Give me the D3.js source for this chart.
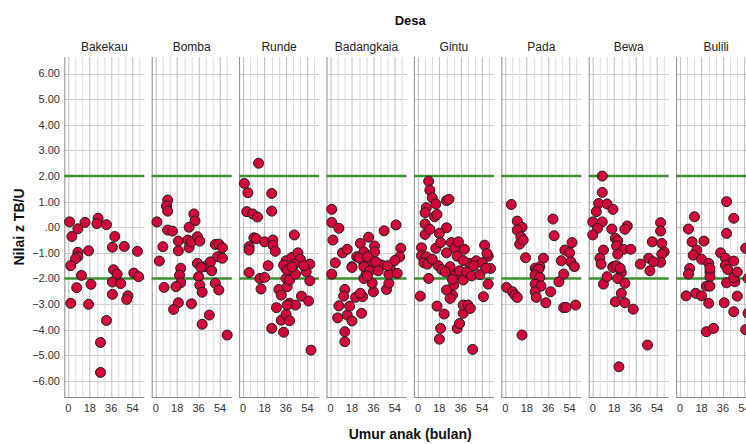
<!DOCTYPE html>
<html>
<head>
<meta charset="utf-8">
<script src="https://cdn.jsdelivr.net/npm/d3@7"></script>
<style>
  html, body { margin: 0; padding: 0; background: #fff; }
  svg { display: block; font-family: "Liberation Sans", Arial, sans-serif; }
</style>
</head>
<body>
<svg id="chart" width="746" height="444"></svg>
<script>
// Villages (facets), left to right
const desa = ["Bakekau", "Bomba", "Runde", "Badangkaia", "Gintu", "Pada", "Bewa", "Bulili"];

// [age in months, height-for-age z-score] per child, one array per village
const bakekau = [[1,0.21],[3,-0.36],[8,-0.06],[14,0.19],[25,0.35],[24,0.14],[32,0.10],[39,-0.36],[37,-0.78],[47,-0.75],[58,-0.94],[17,-0.92],[8,-0.98],[8,-1.15],[6,-1.23],[2,-1.5],[11,-1.88],[7,-2.36],[2,-2.97],[19,-2.23],[17,-3.01],[38,-1.66],[41,-1.83],[37,-2.14],[44,-2.2],[37,-2.62],[32,-3.64],[27,-4.5],[27,-5.67],[55,-1.79],[59,-1.93],[50,-2.68],[49,-2.82]];
const bomba = [[10,1.06],[9,0.83],[10,0.63],[1,0.21],[10,-0.11],[14,-0.15],[32,0.52],[33,0.25],[28,0.0],[6,-0.76],[3,-1.32],[19,-0.54],[19,-0.92],[28,-0.79],[27,-0.5],[30,-0.57],[35,-0.37],[37,-0.54],[21,-1.6],[35,-1.41],[41,-1.54],[46,-1.35],[47,-1.7],[50,-0.67],[53,-0.66],[56,-0.8],[52,-1.15],[56,-1.21],[20,-1.87],[21,-2.17],[17,-2.32],[7,-2.35],[38,-1.57],[36,-1.93],[37,-2.26],[39,-2.54],[50,-2.19],[53,-2.45],[19,-2.95],[15,-3.21],[30,-2.99],[45,-3.43],[39,-3.79],[60,-4.21]];
const runde = [[13,2.5],[1,1.71],[4,1.35],[24,1.32],[3,0.61],[8,0.52],[12,0.40],[24,0.63],[43,-0.30],[9,-0.41],[11,-0.45],[18,-0.57],[25,-0.5],[25,-0.7],[27,-0.94],[5,-0.76],[5,-0.89],[36,-1.31],[41,-1.18],[46,-1.0],[48,-1.25],[56,-1.44],[21,-1.5],[43,-1.44],[36,-1.61],[5,-1.77],[14,-2.0],[18,-1.96],[15,-2.41],[30,-2.43],[32,-2.65],[28,-3.14],[32,-3.63],[34,-4.1],[24,-3.95],[36,-3.4],[39,-3.65],[36,-2.0],[37,-2.32],[39,-2.06],[39,-2.97],[44,-3.04],[37,-3.04],[44,-1.83],[49,-2.69],[53,-1.74],[56,-2.09],[55,-2.88],[57,-4.8],[34,-1.48],[37,-1.67],[41,-1.55],[51,-1.5]];
const badangkaia = [[1,0.7],[1,0.19],[7,-0.04],[2,-0.5],[10,-1.0],[14,-0.86],[4,-1.39],[22,-1.15],[25,-0.63],[32,-0.39],[37,-0.73],[37,-0.96],[28,-0.96],[45,-0.14],[55,0.09],[59,-0.82],[58,-1.16],[18,-1.54],[28,-1.41],[33,-1.41],[42,-1.48],[50,-1.58],[1,-1.83],[18,-1.57],[12,-2.43],[11,-2.69],[7,-3.07],[6,-3.54],[14,-3.43],[18,-3.66],[16,-3.08],[12,-4.08],[12,-4.47],[21,-2.74],[26,-3.36],[27,-2.71],[25,-2.58],[36,-2.52],[28,-2.0],[30,-1.8],[28,-1.54],[43,-1.48],[35,-2.19],[47,-2.43],[49,-2.19],[49,-1.83],[56,-1.8],[24,-1.2],[31,-1.15],[33,-1.7],[38,-1.35],[48,-1.5],[54,-1.3],[31,-1.9],[40,-1.7]];
const gintu = [[9,1.8],[10,1.45],[12,1.15],[15,0.91],[24,1.04],[26,1.09],[7,0.76],[6,0.57],[14,0.41],[16,0.5],[6,0.13],[6,-0.28],[10,-0.08],[24,-0.02],[18,-0.24],[3,-0.8],[3,-1.11],[7,-1.15],[5,-1.39],[8,-1.44],[15,-0.82],[19,-0.6],[24,-1.0],[28,-0.6],[31,-0.82],[33,-1.13],[39,-0.86],[34,-0.57],[17,-1.5],[27,-1.54],[43,-1.41],[49,-1.31],[56,-0.70],[59,-1.13],[58,-1.02],[54,-1.39],[61,-1.61],[2,-2.69],[9,-2.0],[16,-3.08],[22,-3.39],[19,-3.95],[18,-4.37],[29,-2.65],[27,-2.78],[30,-2.26],[33,-3.95],[35,-3.76],[38,-3.36],[38,-3.04],[42,-3.04],[44,-3.17],[46,-4.77],[55,-2.71],[38,-2.06],[59,-2.22],[24,-2.45],[31,-1.87],[29,-2.04],[20,-1.65],[23,-1.75],[35,-1.7],[41,-1.75],[45,-1.9],[52,-1.85],[57,-1.6],[47,-1.5],[12,-1.25],[38,-1.3]];
const pada = [[5,0.89],[10,0.24],[14,0.0],[10,-0.11],[13,-0.37],[12,-0.66],[15,-0.5],[40,0.32],[41,-0.33],[56,-0.6],[50,-0.89],[54,-1.0],[47,-1.31],[55,-1.35],[17,-1.19],[32,-1.21],[25,-1.6],[29,-1.54],[58,-1.54],[1,-2.35],[6,-2.52],[8,-2.65],[10,-2.74],[14,-4.21],[26,-1.7],[28,-1.64],[25,-1.87],[29,-1.96],[25,-2.22],[30,-2.3],[25,-2.52],[26,-2.74],[38,-2.52],[34,-2.95],[45,-2.13],[49,-1.83],[49,-3.14],[51,-3.13],[59,-3.04]];
const bewa = [[8,2.0],[8,1.36],[5,0.93],[12,0.91],[3,0.61],[17,0.70],[0,0.21],[8,0.21],[4,-0.04],[0,-0.3],[16,-0.07],[29,0.05],[27,-0.08],[19,-0.43],[21,-0.53],[20,-0.73],[26,-0.86],[32,-0.86],[21,-1.05],[9,-0.89],[6,-1.21],[7,-1.44],[17,-1.54],[47,-1.21],[40,-1.44],[50,-0.57],[57,0.18],[57,-0.15],[58,-0.63],[60,-0.96],[58,-1.05],[57,-1.37],[51,-1.35],[9,-2.22],[12,-1.93],[17,-1.57],[24,-1.77],[21,-2.0],[27,-2.19],[24,-2.58],[19,-2.91],[27,-2.95],[34,-3.2],[22,-5.45],[46,-4.6],[48,-1.7],[20,-1.5],[23,-1.6]];
const bulili = [[39,1.0],[12,0.41],[45,0.35],[7,-0.07],[39,-0.24],[10,-0.57],[20,-0.54],[14,-0.89],[11,-1.09],[18,-1.25],[24,-1.41],[34,-1.0],[38,-1.21],[45,-1.32],[55,-0.82],[8,-1.61],[38,-1.48],[7,-1.83],[25,-1.74],[25,-1.93],[22,-2.3],[25,-2.3],[5,-2.68],[13,-2.58],[18,-2.68],[24,-2.97],[22,-4.08],[28,-3.95],[37,-2.95],[39,-2.17],[46,-2.13],[48,-2.69],[45,-3.3],[57,-3.36],[55,-4.0],[45,-1.96],[25,-1.6],[40,-1.65],[48,-1.75],[57,-2.0],[60,-1.7]];

const seriesByDesa = [bakekau, bomba, runde, badangkaia, gintu, pada, bewa, bulili];

// Axis ticks
const xTicks = [0, 18, 36, 54];
const xGrid = [0, 6, 12, 18, 24, 30, 36, 42, 48, 54, 60];
const yTicks = [6, 5, 4, 3, 2, 1, 0, -1, -2, -3, -4, -5, -6];
const refLines = [2, -2];

// Layout
const svg = d3.select("#chart");
const panelLeft = 64.3, panelStep = 87.4, panelW = 80;
const panelTop = 57, panelBottom = 397;

const x = d3.scaleLinear().domain([-3.4, 63.8]).range([0, panelW]);
const y = d3.scaleLinear().domain([-6.63, 6.65]).range([panelBottom, panelTop]);

const fmtY = v => v === 0 ? ".00" : d3.format(".2f")(v);

// Y tick labels (shared, left of first panel)
svg.append("g").selectAll("text").data(yTicks).join("text")
  .attr("x", 60).attr("y", d => y(d)).attr("dy", "0.35em")
  .attr("text-anchor", "end").attr("font-size", 11).attr("fill", "#333")
  .text(fmtY);

desa.forEach((name, i) => {
  const g = svg.append("g").attr("transform", `translate(${panelLeft + i * panelStep},0)`);

  // horizontal grid
  g.append("g").selectAll("line").data(yTicks).join("line")
    .attr("x1", 0).attr("x2", panelW)
    .attr("y1", d => Math.round(y(d)) + 0.5).attr("y2", d => Math.round(y(d)) + 0.5)
    .attr("stroke", "#cfcfcf").attr("stroke-width", 1);

  // vertical grid
  g.append("g").selectAll("line").data(xGrid).join("line")
    .attr("x1", d => Math.round(x(d)) + 0.5).attr("x2", d => Math.round(x(d)) + 0.5)
    .attr("y1", panelTop).attr("y2", panelBottom)
    .attr("stroke", d => xTicks.includes(d) ? "#bdbdbd" : "#d9d9d9").attr("stroke-width", 1);

  // axis lines
  g.append("line").attr("x1", 0.5).attr("x2", 0.5).attr("y1", panelTop).attr("y2", panelBottom + 0.5)
    .attr("stroke", "#8c8c8c").attr("stroke-width", 1);
  g.append("line").attr("x1", 0).attr("x2", panelW).attr("y1", panelBottom + 0.5).attr("y2", panelBottom + 0.5)
    .attr("stroke", "#8c8c8c").attr("stroke-width", 1);

  // x tick labels
  g.append("g").selectAll("text").data(xTicks).join("text")
    .attr("x", d => x(d)).attr("y", 412)
    .attr("text-anchor", "middle").attr("font-size", 11).attr("fill", "#333")
    .text(d => d);

  // reference lines at +2 / -2
  g.append("g").selectAll("line").data(refLines).join("line")
    .attr("x1", 0).attr("x2", panelW)
    .attr("y1", d => y(d)).attr("y2", d => y(d))
    .attr("stroke", "#3d8f31").attr("stroke-width", 2.5);

  // facet label
  g.append("text").attr("x", panelW / 2).attr("y", 51)
    .attr("text-anchor", "middle").attr("font-size", 12).attr("fill", "#222")
    .text(name);

  // points
  g.append("g").selectAll("circle").data(seriesByDesa[i]).join("circle")
    .attr("cx", d => x(d[0])).attr("cy", d => y(d[1])).attr("r", 5)
    .attr("fill", "#d3063a").attr("stroke", "#1f1f1f").attr("stroke-width", 1);
});

// Titles
const centerX = panelLeft + (desa.length * panelStep - (panelStep - panelW)) / 2;
svg.append("text").attr("x", centerX).attr("y", 25).attr("text-anchor", "middle")
  .attr("font-size", 13).attr("font-weight", "bold").attr("fill", "#111").text("Desa");
svg.append("text").attr("x", centerX).attr("y", 439).attr("text-anchor", "middle")
  .attr("font-size", 14).attr("font-weight", "bold").attr("fill", "#111").text("Umur anak (bulan)");
svg.append("text").attr("transform", `translate(24,${(panelTop + panelBottom) / 2}) rotate(-90)`)
  .attr("text-anchor", "middle").attr("font-size", 14).attr("font-weight", "bold").attr("fill", "#111")
  .text("Nilai z TB/U");
</script>
</body>
</html>
